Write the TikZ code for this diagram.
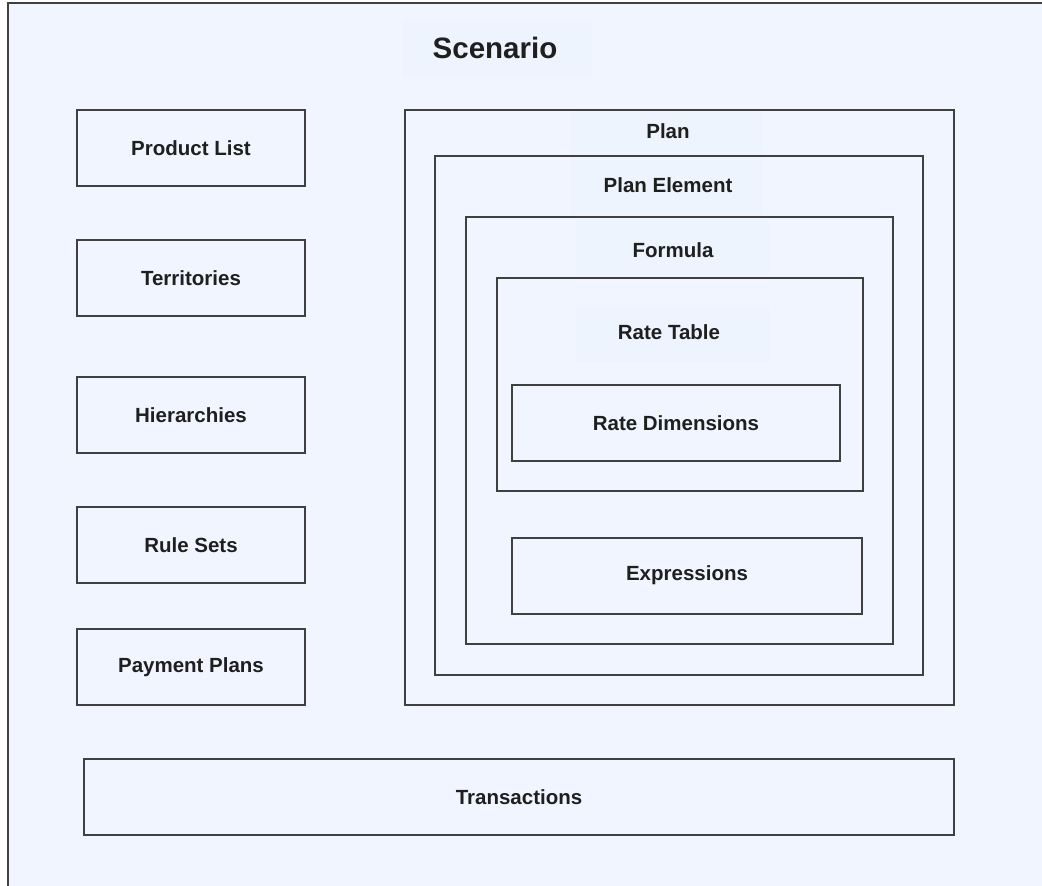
\documentclass[tikz,border=0pt]{standalone}
\usepackage{fontspec}
\setmainfont{Liberation Sans}
\definecolor{bgblue}{RGB}{240,245,255}
\definecolor{patchblue}{RGB}{237,244,253}
\definecolor{linegray}{RGB}{64,64,64}
\begin{document}
\begin{tikzpicture}[x=1pt,y=-1pt,
  box/.style={draw=linegray,line width=2pt,inner sep=0pt,rectangle,
    font=\fontsize{20.5}{24}\selectfont\bfseries,text=black!88},
  lbl/.style={inner sep=0pt,font=\fontsize{20.5}{24}\selectfont\bfseries,text=black!88},
  patch/.style={fill=patchblue,draw=none,inner sep=0pt,minimum width=193pt}]
\useasboundingbox[fill=white] (0,0) rectangle (1042,886);
% outer scenario frame
\fill[bgblue] (8,3) rectangle (1050,900);
\draw[linegray,line width=2pt] (8,900) -- (8,3) -- (1050,3);
% label patches
\node[patch,minimum width=190pt,minimum height=57pt] (scpatch) at (497,48.5) {};
\node[patch,minimum height=44pt] (planpatch) at (666,133) {};
\node[patch,minimum height=57pt] (pepatch) at (666,186) {};
\node[patch,minimum height=57pt] (fopatch) at (672,247) {};
\node[patch,minimum height=57pt] (rtpatch) at (672,333.5) {};
% title
\node[lbl,font=\fontsize{29.5}{34}\selectfont\bfseries] (scenario) at (495,48) {Scenario};
% left column
\node[box,minimum width=228pt,minimum height=76pt] (prod) at (191,148) {Product List};
\node[box,minimum width=228pt,minimum height=76pt] (terr) at (191,278) {Territories};
\node[box,minimum width=228pt,minimum height=76pt] (hier) at (191,415) {Hierarchies};
\node[box,minimum width=228pt,minimum height=76pt] (rules) at (191,545) {Rule Sets};
\node[box,minimum width=228pt,minimum height=76pt] (pay) at (191,667) {Payment Plans};
% bottom
\node[box,minimum width=870pt,minimum height=76pt] (trans) at (519,797) {Transactions};
% nested containers
\node[box,minimum width=549pt,minimum height=595pt] (plan) at (679.5,407.5) {};
\node[lbl] (planlbl) at (668,131) {Plan};
\node[box,minimum width=488pt,minimum height=519pt] (pe) at (679,415.5) {};
\node[lbl] (pelbl) at (668,185) {Plan Element};
\node[box,minimum width=427pt,minimum height=427pt] (form) at (679.5,430.5) {};
\node[lbl] (formlbl) at (673,250) {Formula};
\node[box,minimum width=366pt,minimum height=213pt] (rt) at (679.5,384.5) {};
\node[lbl] (rtlbl) at (669,332) {Rate Table};
\node[box,minimum width=328pt,minimum height=76pt] (rd) at (676,423) {Rate Dimensions};
\node[box,minimum width=350pt,minimum height=76pt] (expr) at (687,575.5) {Expressions};
\end{tikzpicture}
\end{document}
